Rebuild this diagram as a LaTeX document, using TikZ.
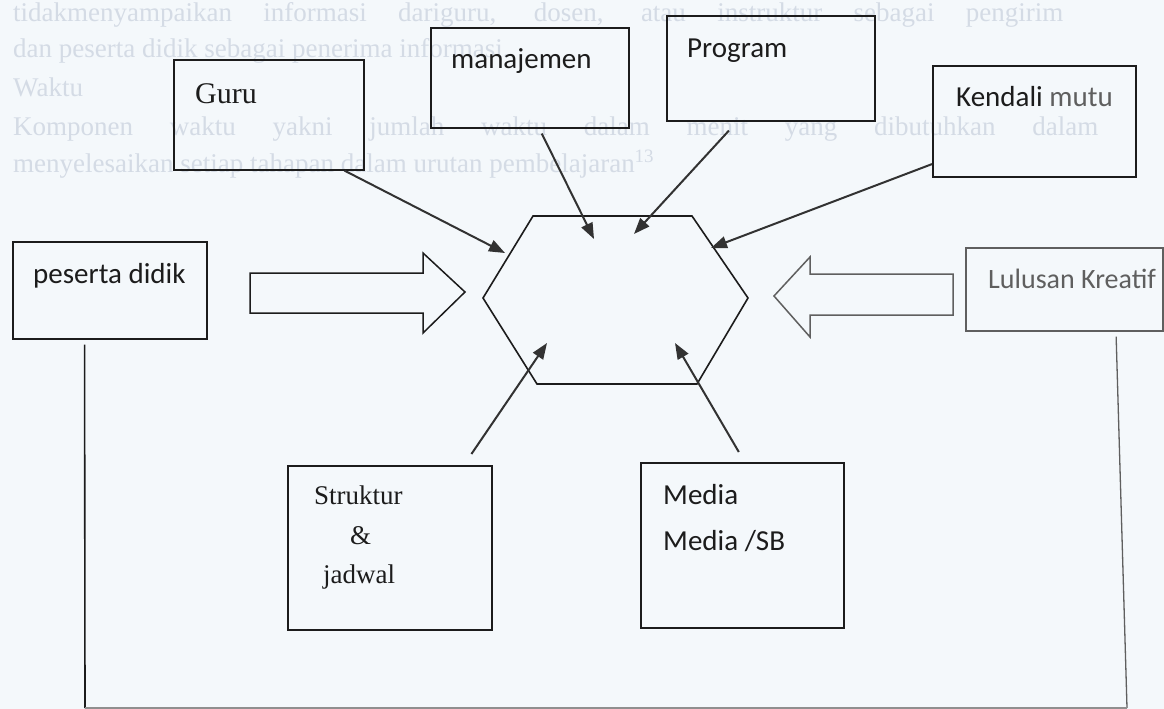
\documentclass[tikz,border=0pt]{standalone}
\usepackage{fontspec}
\setmainfont{Liberation Serif}
\newfontfamily\calib{Carlito}
\usetikzlibrary{arrows.meta,calc}
\definecolor{paper}{RGB}{244,248,251}
\definecolor{ink}{RGB}{28,28,28}
\definecolor{softink}{RGB}{95,95,95}
\definecolor{ghost}{RGB}{212,219,229}
\definecolor{arrowink}{RGB}{50,50,50}
\begin{document}
\begin{tikzpicture}[x=1pt,y=-1pt,
  box/.style={draw=ink,line width=1.6pt,inner sep=0pt,anchor=north west},
  lab/.style={anchor=base west,inner sep=0pt,text=ink},
  sans/.style={font=\calib\fontsize{29}{34}\selectfont},
  serif/.style={font=\fontsize{30}{36}\selectfont},
  feed/.style={draw=arrowink,line width=2pt,-{Triangle[length=16pt,width=12pt]}},
  blockarrow/.style={draw=ink,line width=1.5pt,line join=miter},
  ghosttext/.style={anchor=base west,inner sep=0pt,text=ghost,font=\fontsize{27}{31}\selectfont}
]
\useasboundingbox (0,0) rectangle (1164,709);
\fill[paper] (0,0) rectangle (1164,709);

% faint page text
\node[ghosttext] (g1) at (13,22) {\makebox[1050pt][s]{tidakmenyampaikan informasi dariguru, dosen, atau instruktur sebagai pengirim}};
\node[ghosttext] (g2) at (13,57) {dan peserta didik sebagai penerima informasi.};
\node[ghosttext] (g3) at (13,96) {Waktu};
\node[ghosttext] (g4) at (13,135) {\makebox[1085pt][s]{Komponen waktu yakni jumlah waktu dalam menit yang dibutuhkan dalam}};
\node[ghosttext] (g5) at (13,172) {menyelesaikan setiap tahapan dalam urutan pembelajaran\textsuperscript{13}};

% boxes
\node[box,minimum width=190pt,minimum height=110pt] (guru) at (173,59) {};
\node[box,minimum width=198pt,minimum height=100pt] (manaj) at (430,27) {};
\node[box,minimum width=208pt,minimum height=105pt] (prog) at (666,15) {};
\node[box,minimum width=203pt,minimum height=111pt] (kendali) at (932,65) {};
\node[box,minimum width=194pt,minimum height=97pt] (peserta) at (12,241) {};
\node[box,draw=softink,minimum width=197pt,minimum height=83pt] (lulusan) at (965,247) {};
\node[box,minimum width=204pt,minimum height=164pt] (struktur) at (287,465) {};
\node[box,minimum width=203pt,minimum height=165pt] (media) at (640,462) {};

% labels
\node[lab,serif] (tguru) at (195,103) {Guru};
\node[lab,sans] (tmanaj) at (451,68) {manajemen};
\node[lab,sans] (tprog) at (687,57) {Program};
\node[lab,sans] (tkendali) at (956,106) {Kendali \textcolor{softink}{mutu}};
\node[lab,sans] (tpeserta) at (33,283) {peserta didik};
\node[lab,sans,font=\calib\fontsize{28}{33}\selectfont,text=softink] (tlulusan) at (988,288) {Lulusan Kreatif};
\node[lab,font=\fontsize{27}{32}\selectfont] (tstruk1) at (314,504) {Struktur};
\node[lab,font=\fontsize{27}{32}\selectfont] (tstruk2) at (350,544) {\&};
\node[lab,font=\fontsize{27}{32}\selectfont] (tstruk3) at (323,583) {jadwal};
\node[lab,sans] (tmedia1) at (663,504) {Media};
\node[lab,sans] (tmedia2) at (663,550) {Media /SB};

% hexagon
\coordinate (h1) at (533,216);
\coordinate (h2) at (692,216);
\coordinate (h3) at (748,298);
\coordinate (h4) at (697,384);
\coordinate (h5) at (537,384);
\coordinate (h6) at (483,298);
\draw[ink,line width=1.6pt,line join=miter] (h1) -- (h2) -- (h3) -- (h4) -- (h5) -- (h6) -- cycle;

% block arrows
\draw[blockarrow] (250,273) -- (423,273) -- (423,253) -- (465,292) -- (423,333) -- (423,313) -- (250,313) -- cycle;
\draw[blockarrow,draw=softink] (953,274) -- (810,274) -- (810,257) -- (774,296) -- (810,337) -- (810,315) -- (953,315) -- cycle;

% arrow tips
\coordinate (t1) at (505,253);
\coordinate (t2) at (594,239);
\coordinate (t3) at (634,234);
\coordinate (t4) at (711,248);
\coordinate (t5) at (547,343);
\coordinate (t6) at (675,343);

\draw[feed] ($(guru.south west)!0.895!(guru.south east)$) -- (t1);
\draw[feed] ($(manaj.south west)!0.56!(manaj.south east)+(0,5)$) -- (t2);
\draw[feed] ($(prog.south west)!0.30!(prog.south east)+(0,9)$) -- (t3);
\draw[feed] ($(kendali.north west)!0.88!(kendali.south west)$) -- (t4);
\draw[feed] ($(struktur.north west)!0.897!(struktur.north east)+(0,-11)$) -- (t5);
\draw[feed] ($(media.north west)!0.483!(media.north east)+(0,-10)$) -- (t6);

% bottom loop
\coordinate (botL) at (85,708);
\coordinate (botR) at (1127,708);
\draw[ink,line width=1.6pt] ($(peserta.south west)!0.371!(peserta.south east)+(0,5)$) -- (botL);
\draw[softink,line width=1.3pt] ($(lulusan.south west)!0.761!(lulusan.south east)+(0,5)$) -- (botR);
\draw[softink!70,line width=1.3pt] (botL) -- (botR);
\end{tikzpicture}
\end{document}
